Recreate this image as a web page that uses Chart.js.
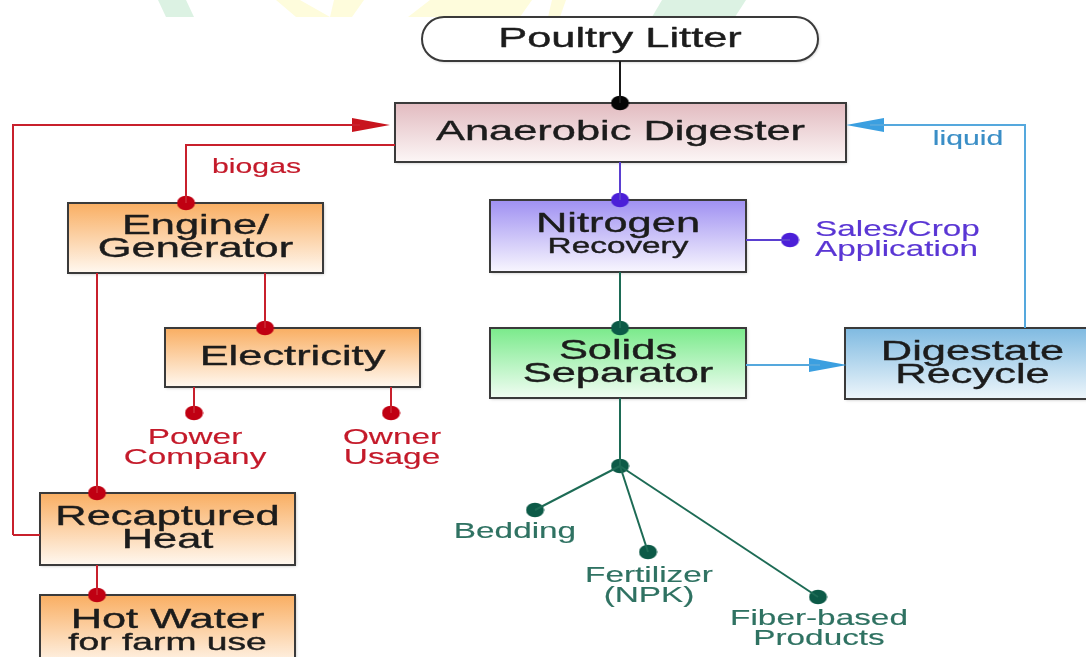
<!DOCTYPE html>
<html>
<head>
<meta charset="utf-8">
<script src="https://cdn.jsdelivr.net/npm/chart.js@4.4.1/dist/chart.umd.min.js"></script>
<style>
  html, body { margin: 0; padding: 0; background: #fff; }
  #wrap { width: 1086px; height: 657px; }
</style>
</head>
<body>
<div id="wrap"><canvas id="flowChart" width="1086" height="657"></canvas></div>
<script>
// boxes of the flow (coordinates in chart units, y grows downward)
const boxNames = ["Poultry Litter", "Anaerobic Digester", "Engine/\nGenerator", "Electricity",
  "Recaptured\nHeat", "Hot Water\nfor farm use", "Nitrogen\nRecovery", "Solids\nSeparator", "Digestate\nRecycle"];
const boxX1 = [422, 395, 68, 165, 40, 40, 490, 490, 845];
const boxY1 = [17, 103, 203, 328, 493, 595, 200, 328, 328];
const boxX2 = [818, 846, 323, 420, 295, 295, 746, 746, 1100];
const boxY2 = [61, 162, 273, 387, 565, 668, 272, 398, 399];
const boxKind = ["pill", "digester", "energy", "energy", "energy", "energy", "nitrogen", "solids", "digestate"];

// connectors
const blackLinks = [[[620, 61], [620, 103]]];
const redLinks = [
  [[13, 535], [40, 535]],
  [[13, 535], [13, 125], [360, 125]],
  [[395, 145], [186, 145], [186, 203]],
  [[97, 273], [97, 493]],
  [[265, 273], [265, 328]],
  [[194, 387], [194, 413]],
  [[391, 387], [391, 413]],
  [[97, 565], [97, 595]]
];
const purpleLinks = [[[620, 162], [620, 200]], [[746, 240], [790, 240]]];
const greenLinks = [
  [[620, 272], [620, 328]],
  [[620, 398], [620, 466]],
  [[620, 466], [535, 510]],
  [[620, 466], [648, 552]],
  [[620, 466], [818, 597]]
];
const blueLinks = [[[746, 365], [820, 365]], [[1025, 328], [1025, 125], [870, 125]]];

// junction dots
const blackDots = [[620, 103]];
const redDots = [[186, 203], [97, 493], [265, 328], [194, 413], [391, 413], [97, 595]];
const purpleDots = [[620, 200], [790, 240]];
const greenDots = [[620, 328], [620, 466], [535, 510], [648, 552], [818, 597]];

// arrow heads: [x, y] of the head centre, direction
const redArrows = [[371, 125]];
const redArrowDir = ["right"];
const blueArrows = [[828, 365], [865, 125]];
const blueArrowDir = ["right", "left"];

// free labels
const noteText = ["biogas", "Power\nCompany", "Owner\nUsage", "Sales/Crop\nApplication", "liquid",
  "Bedding", "Fertilizer\n(NPK)", "Fiber-based\nProducts"];
const noteX = [212, 195, 392, 815, 968, 515, 649, 819];
const noteY = [168, 438, 438, 230, 140, 532, 576, 619];
const noteKind = ["red", "red", "red", "purple", "blue", "green", "green", "green"];

// faint watermark strokes along the top edge
const wmGreen = [[[158, 0], [186, 0], [194, 17], [166, 17]], [[662, 0], [746, 0], [735, 17], [652, 17]]];
const wmYellow = [[[276, 0], [300, 0], [330, 17], [296, 17]], [[334, 0], [364, 0], [352, 17], [330, 17]],
  [[408, 17], [430, 0], [532, 0], [520, 17]], [[552, 0], [566, 0], [560, 17], [548, 17]]];

const fills = {
  pill: ["#ffffff", "#ffffff"],
  digester: ["#e2bbc0", "#fcf6f6"],
  energy: ["#f9ae62", "#fff8f0"],
  nitrogen: ["#9f90f2", "#f8f6fe"],
  solids: ["#7aea8b", "#f1fdf3"],
  digestate: ["#7fbae1", "#eef6fb"]
};
const lineColor = { black: "#1a1a1a", red: "#c8202c", purple: "#5a3fd0", green: "#1d6b55", blue: "#55a8dd" };
const dotColor = { black: "#050505", red: "#c00012", purple: "#4b1fd8", green: "#0c5a47" };
const textColor = { red: "#c41a2a", purple: "#5a36d4", green: "#2f7262", blue: "#3a8ec6" };
const FONT = "'Liberation Sans', Arial, sans-serif";
const STRETCH = 1.55;

function makeDot(color) {
  const c = document.createElement("canvas");
  c.width = 19; c.height = 16;
  const g = c.getContext("2d");
  g.fillStyle = color;
  g.beginPath();
  g.ellipse(9.5, 8, 9, 7.3, 0, 0, Math.PI * 2);
  g.fill();
  return c;
}

function makeArrow(color, dir) {
  const c = document.createElement("canvas");
  c.width = 38; c.height = 14;
  const g = c.getContext("2d");
  g.fillStyle = color;
  g.beginPath();
  if (dir === "right") { g.moveTo(0, 0); g.lineTo(38, 7); g.lineTo(0, 14); }
  else { g.moveTo(38, 0); g.lineTo(0, 7); g.lineTo(38, 14); }
  g.closePath();
  g.fill();
  return c;
}

const datasets = [];
function addLinks(list, color) {
  list.forEach(function (pts) {
    datasets.push({
      data: pts.map(function (p) { return { x: p[0], y: p[1] }; }),
      showLine: true, borderColor: color, borderWidth: 2, pointRadius: 0, tension: 0, clip: false
    });
  });
}
addLinks(blackLinks, lineColor.black);
addLinks(redLinks, lineColor.red);
addLinks(purpleLinks, lineColor.purple);
addLinks(greenLinks, lineColor.green);
addLinks(blueLinks, lineColor.blue);

function addDots(list, color) {
  datasets.push({
    data: list.map(function (p) { return { x: p[0], y: p[1] }; }),
    pointStyle: makeDot(color), pointRadius: 8, showLine: false, clip: false
  });
}
addDots(blackDots, dotColor.black);
addDots(redDots, dotColor.red);
addDots(purpleDots, dotColor.purple);
addDots(greenDots, dotColor.green);

function addArrows(list, dirs, color) {
  list.forEach(function (p, i) {
    datasets.push({
      data: [{ x: p[0], y: p[1] }],
      pointStyle: makeArrow(color, dirs[i]), pointRadius: 8, showLine: false, clip: false
    });
  });
}
addArrows(redArrows, redArrowDir, "#c8141e");
addArrows(blueArrows, blueArrowDir, "#3b9fe0");

// the source lettering is wide and heavy, so stretch it and add a thin outline
function stretchedText(ctx, str, x, y, size, color, align, weight) {
  ctx.save();
  ctx.font = size + "px " + FONT;
  ctx.fillStyle = color;
  ctx.strokeStyle = color;
  ctx.lineWidth = weight;
  ctx.lineJoin = "round";
  ctx.textBaseline = "middle";
  ctx.textAlign = align;
  ctx.translate(x, y);
  ctx.scale(STRETCH, 1);
  ctx.fillText(str, 0, 0);
  if (weight > 0) ctx.strokeText(str, 0, 0);
  ctx.restore();
}

const boxPlugin = {
  id: "boxes",
  beforeDatasetsDraw: function (chart) {
    const ctx = chart.ctx, sx = chart.scales.x, sy = chart.scales.y;
    // watermark
    function poly(list, color) {
      ctx.fillStyle = color;
      list.forEach(function (pts) {
        ctx.beginPath();
        pts.forEach(function (p, i) {
          const px = sx.getPixelForValue(p[0]), py = sy.getPixelForValue(p[1]);
          if (i === 0) ctx.moveTo(px, py); else ctx.lineTo(px, py);
        });
        ctx.closePath();
        ctx.fill();
      });
    }
    ctx.save();
    poly(wmGreen, "#dcf2e3");
    poly(wmYellow, "#fefcdc");
    ctx.restore();

    boxNames.forEach(function (name, i) {
      const x1 = sx.getPixelForValue(boxX1[i]), x2 = sx.getPixelForValue(boxX2[i]);
      const y1 = sy.getPixelForValue(boxY1[i]), y2 = sy.getPixelForValue(boxY2[i]);
      const f = fills[boxKind[i]];
      ctx.save();
      const grad = ctx.createLinearGradient(0, y1, 0, y2);
      grad.addColorStop(0, f[0]);
      grad.addColorStop(1, f[1]);
      ctx.fillStyle = grad;
      ctx.strokeStyle = "#3a3a3a";
      ctx.lineWidth = 2;
      ctx.beginPath();
      if (boxKind[i] === "pill") {
        ctx.roundRect(x1, y1, x2 - x1, y2 - y1, 22);
      } else {
        ctx.rect(x1, y1, x2 - x1, y2 - y1);
      }
      ctx.shadowColor = "rgba(0,0,0,0.25)";
      ctx.shadowBlur = 3;
      ctx.shadowOffsetX = 1;
      ctx.shadowOffsetY = 1;
      ctx.fill();
      ctx.shadowColor = "transparent";
      ctx.stroke();
      ctx.restore();
    });
  },
  afterDatasetsDraw: function (chart) {
    const ctx = chart.ctx, sx = chart.scales.x, sy = chart.scales.y;
    boxNames.forEach(function (name, i) {
      const lines = name.split("\n");
      const cx = sx.getPixelForValue((boxX1[i] + boxX2[i]) / 2);
      const cy = sy.getPixelForValue((boxY1[i] + boxY2[i]) / 2);
      lines.forEach(function (t, k) {
        const y = cy + (k - (lines.length - 1) / 2) * 23;
        let size = 28;
        if (name === "Nitrogen\nRecovery" && k === 1) size = 21.5;
        if (name === "Hot Water\nfor farm use" && k === 1) size = 24;
        stretchedText(ctx, t, cx, y, size, "#1c1c1c", "center", 0.4);
      });
    });
    noteText.forEach(function (txt, i) {
      const lines = txt.split("\n");
      const x = sx.getPixelForValue(noteX[i]);
      const align = (noteKind[i] === "purple" || i === 0) ? "left" : "center";
      const size = (i === 0 || i === 4) ? 19.5 : 21.5;
      lines.forEach(function (t, k) {
        const y = sy.getPixelForValue(noteY[i]) + k * 20;
        stretchedText(ctx, t, x, y, size, textColor[noteKind[i]], align, 0.15);
      });
    });
  }
};

new Chart(document.getElementById("flowChart").getContext("2d"), {
  type: "scatter",
  data: { datasets: datasets },
  options: {
    responsive: false,
    animation: false,
    devicePixelRatio: 1,
    layout: { padding: 0, autoPadding: false },
    plugins: { legend: { display: false }, tooltip: { enabled: false } },
    events: [],
    scales: {
      x: { type: "linear", min: 0, max: 1086, display: false },
      y: { type: "linear", min: 0, max: 657, reverse: true, display: false }
    }
  },
  plugins: [boxPlugin]
});
</script>
</body>
</html>
